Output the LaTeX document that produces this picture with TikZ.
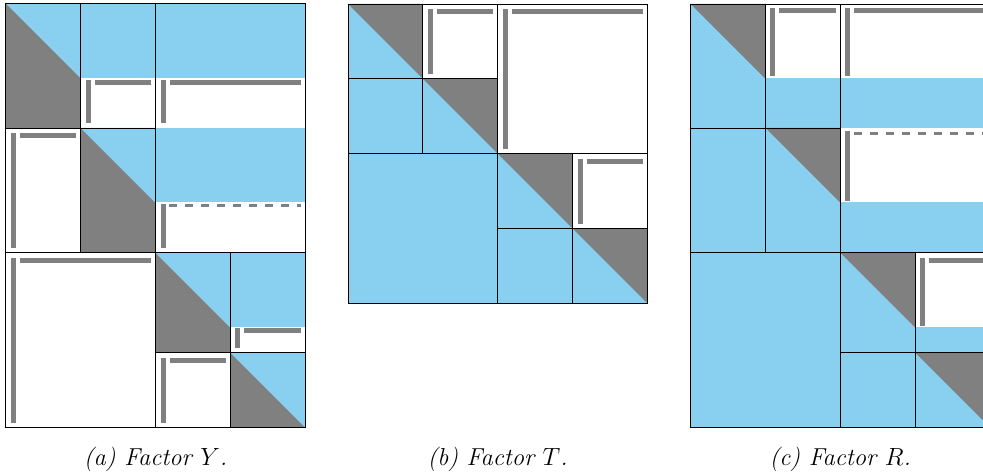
\documentclass[tikz,border=0pt]{standalone}
\usepackage{tikz}
\definecolor{skyb}{RGB}{137,207,239}
\definecolor{grayc}{RGB}{128,128,128}
\tikzset{
  bluefill/.style={fill=skyb},
  grayfill/.style={fill=grayc},
  whitefill/.style={fill=white},
  barfill/.style={fill=grayc},
  gridline/.style={draw=black, line width=0.9pt},
  dashbar/.style={draw=grayc, line width=3.5pt, dash pattern=on 8.3pt off 7.7pt},
  caption/.style={anchor=base, inner sep=0pt, font=\fontsize{24.5}{28}\selectfont\itshape}
}
% vertical bar x, top y, bottom y, horizontal bar x0, x1
\newcommand{\barpair}[5]{%
  \fill[barfill] (#1,#2) rectangle (#1+5,#3);
  \fill[barfill] (#4,#2) rectangle (#5,#2+5);}
\begin{document}
\begin{tikzpicture}[x=1pt,y=-1pt]
\useasboundingbox (0,0) rectangle (983,476);
\clip (0,0) rectangle (983,476);
\fill[white] (0,0) rectangle (983,476);

% ================= (a) Factor Y =================
\fill[whitefill] (5.7,3.3) rectangle (305.3,427.7);
% A11
\fill[grayfill] (5.7,3.3) rectangle (80.5,128);
\fill[bluefill] (5.7,3.3) -- (80.5,3.3) -- (80.5,78.1) -- cycle;
% A12, A13 blue tops
\fill[bluefill] (80.5,3.3) rectangle (305.3,78);
\barpair{86}{80}{123}{94.5}{150.5}
\barpair{161}{80.5}{123.5}{169.5}{300.5}
% A21
\barpair{11}{133}{247.7}{19.5}{76}
% A22
\fill[grayfill] (80.5,128) rectangle (155.3,252.7);
\fill[bluefill] (80.5,128) -- (155.3,128) -- (155.3,202.8) -- cycle;
% A23
\fill[bluefill] (155.3,128) rectangle (305.3,202);
\fill[barfill] (161,203.5) rectangle (166,247.5);
\draw[dashbar] (169,205.5) -- (301,205.5);
% A31
\barpair{11}{258}{422.7}{19.5}{151}
% A33
\fill[grayfill] (155.3,252.7) rectangle (230.2,352.7);
\fill[bluefill] (155.3,252.7) -- (230.2,252.7) -- (230.2,327.6) -- cycle;
% A34
\fill[bluefill] (230.2,252.7) rectangle (305.3,327);
\barpair{235}{328}{348}{243.5}{301}
% A43
\barpair{161}{357.7}{422.7}{169.5}{226}
% A44
\fill[grayfill] (230.2,352.7) rectangle (305.3,427.7);
\fill[bluefill] (230.2,352.7) -- (305.3,352.7) -- (305.3,427.7) -- cycle;
% grid (a)
\draw[gridline] (5.7,3.3) rectangle (305.3,427.7);
\draw[gridline] (80.5,3.3) -- (80.5,252.7);
\draw[gridline] (155.3,3.3) -- (155.3,427.7);
\draw[gridline] (5.7,128) -- (155.3,128);
\draw[gridline] (5.7,252.7) -- (305.3,252.7);
\draw[gridline] (155.3,352.7) -- (305.3,352.7);
\draw[gridline] (230.2,252.7) -- (230.2,427.7);

% ================= (b) Factor T =================
\fill[bluefill] (348,4) rectangle (647.3,303.3);
\fill[whitefill] (422.8,4) rectangle (497.7,78.8);
\fill[whitefill] (497.7,4) rectangle (647.3,153.7);
\fill[whitefill] (572.5,153.7) rectangle (647.3,228.5);
\fill[grayfill] (348,4) -- (422.8,4) -- (422.8,78.8) -- cycle;
\fill[grayfill] (422.8,78.8) -- (497.7,78.8) -- (497.7,153.7) -- cycle;
\fill[grayfill] (497.7,153.7) -- (572.5,153.7) -- (572.5,228.5) -- cycle;
\fill[grayfill] (572.5,228.5) -- (647.3,228.5) -- (647.3,303.3) -- cycle;
\barpair{428}{9}{74}{436.5}{493}
\barpair{502.7}{9}{148.7}{512}{643}
\barpair{578}{158.7}{224}{586.5}{643}
% grid (b)
\draw[gridline] (348,4) rectangle (647.3,303.3);
\draw[gridline] (348,78.8) -- (497.7,78.8);
\draw[gridline] (422.8,4) -- (422.8,153.7);
\draw[gridline] (348,153.7) -- (647.3,153.7);
\draw[gridline] (497.7,4) -- (497.7,303.3);
\draw[gridline] (497.7,228.5) -- (647.3,228.5);
\draw[gridline] (572.5,153.7) -- (572.5,303.3);

% ================= (c) Factor R =================
\fill[bluefill] (690.7,4) rectangle (990,427.3);
% C11
\fill[grayfill] (690.7,4) -- (765.5,4) -- (765.5,78.8) -- cycle;
% C12, C13 white tops
\fill[whitefill] (765.5,4) rectangle (990,78);
\barpair{770}{8}{76}{779}{836}
\barpair{845}{8}{76}{854}{986}
% C22
\fill[grayfill] (765.5,128) -- (840.3,128) -- (840.3,202.8) -- cycle;
% C23
\fill[whitefill] (840.3,128) rectangle (990,202);
\fill[barfill] (845,131.5) rectangle (850,200.5);
\draw[dashbar] (853.7,133.5) -- (990,133.5);
% C33
\fill[grayfill] (840.3,252.7) -- (915.2,252.7) -- (915.2,327.6) -- cycle;
% C34
\fill[whitefill] (915.2,252.7) rectangle (990,327);
\barpair{920}{258}{326}{928.5}{986}
% C44
\fill[grayfill] (915.2,352.7) -- (990,352.7) -- (990,427.3) -- cycle;
% grid (c)
\draw[gridline] (690.7,4) rectangle (990,427.3);
\draw[gridline] (765.5,4) -- (765.5,252.7);
\draw[gridline] (690.7,128) -- (840.3,128);
\draw[gridline] (840.3,4) -- (840.3,427.3);
\draw[gridline] (690.7,252.7) -- (990,252.7);
\draw[gridline] (840.3,352.7) -- (990,352.7);
\draw[gridline] (915.2,252.7) -- (915.2,427.3);

% ================= captions =================
\node[caption] (capa) at (155.5,465) {(a) Factor $Y$.};
\node[caption] (capb) at (497.6,465) {(b) Factor $T$.};
\node[caption] (capc) at (840.3,465) {(c) Factor $R$.};
\end{tikzpicture}
\end{document}
